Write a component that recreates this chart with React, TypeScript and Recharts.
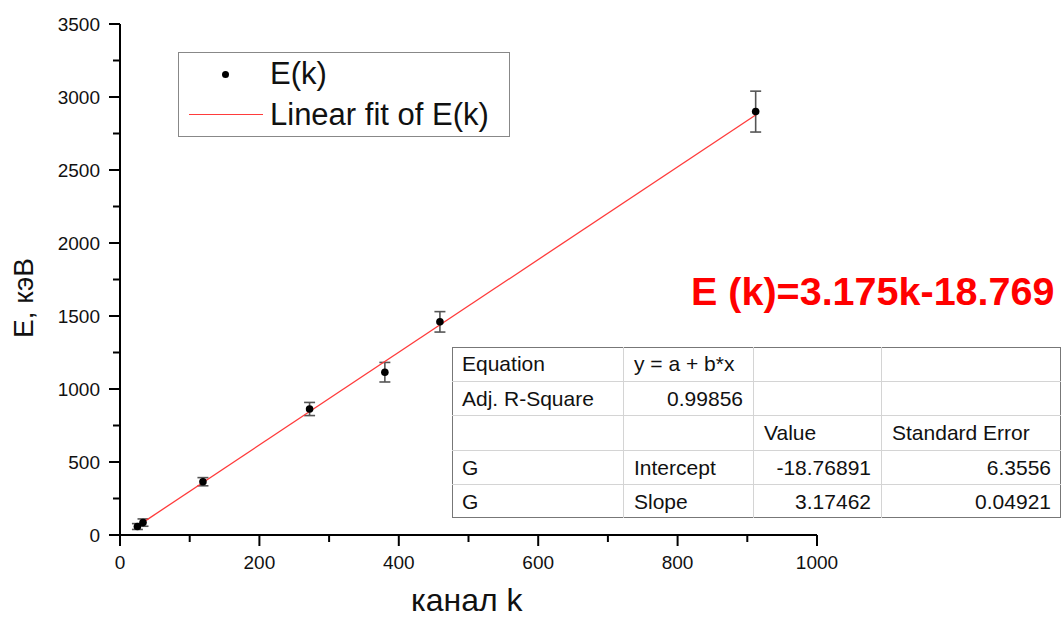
import React from 'react';
import { ScatterChart, Scatter, XAxis, YAxis, ErrorBar } from 'recharts';

const channelK = [25, 33, 119, 272, 380, 459, 912];
const energyE = [58, 85, 365, 863, 1115, 1460, 2900];
const energyErr = [20, 25, 28, 45, 67, 70, 140];

const fitK = [25, 912];
const fitE = [61, 2877];

const xTicks = [0, 100, 200, 300, 400, 500, 600, 700, 800, 900, 1000];
const yTicks = [0, 250, 500, 750, 1000, 1250, 1500, 1750, 2000, 2250, 2500, 2750, 3000, 3250, 3500];

const tableRows: { text: string; align: 'left' | 'right' }[][] = [
  [{ text: 'Equation', align: 'left' }, { text: 'y = a + b*x', align: 'left' }, { text: '', align: 'left' }, { text: '', align: 'left' }],
  [{ text: 'Adj. R-Square', align: 'left' }, { text: '0.99856', align: 'right' }, { text: '', align: 'left' }, { text: '', align: 'left' }],
  [{ text: '', align: 'left' }, { text: '', align: 'left' }, { text: 'Value', align: 'left' }, { text: 'Standard Error', align: 'left' }],
  [{ text: 'G', align: 'left' }, { text: 'Intercept', align: 'left' }, { text: '-18.76891', align: 'right' }, { text: '6.3556', align: 'right' }],
  [{ text: 'G', align: 'left' }, { text: 'Slope', align: 'left' }, { text: '3.17462', align: 'right' }, { text: '0.04921', align: 'right' }],
];

const points = channelK.map((k, i) => ({ k, E: energyE[i], err: energyErr[i] }));
const fit = fitK.map((k, i) => ({ k, E: fitE[i] }));

const FONT = '"Liberation Sans", Arial, sans-serif';

const XTick = (props: any) => {
  const { x, y, payload } = props;
  const major = payload.value % 200 === 0;
  return (
    <g>
      <line x1={x} y1={y} x2={x} y2={y + (major ? 11 : 7)} stroke="#000" strokeWidth={2} />
      {major && (
        <text x={x} y={y + 34} textAnchor="middle" fontSize={19} fontFamily={FONT} fill="#111">
          {payload.value}
        </text>
      )}
    </g>
  );
};

const YTick = (props: any) => {
  const { x, y, payload } = props;
  const major = payload.value % 500 === 0;
  return (
    <g>
      <line x1={x} y1={y} x2={x - (major ? 11 : 7)} y2={y} stroke="#000" strokeWidth={2} />
      {major && (
        <text x={x - 20} y={y + 7} textAnchor="end" fontSize={19} fontFamily={FONT} fill="#111">
          {payload.value}
        </text>
      )}
    </g>
  );
};

const colX = [452, 623, 753, 881, 1061];
const rowTop = 347;
const rowH = 34.2;

export default function App() {
  return (
    <div style={{ position: 'absolute', left: 0, top: 0, width: 1062, height: 619, background: '#fff', fontFamily: FONT, overflow: 'hidden' }}>
      <ScatterChart width={1062} height={619} margin={{ top: 24, right: 245, bottom: 34, left: 60 }}>
        <XAxis
          type="number"
          dataKey="k"
          domain={[0, 1000]}
          ticks={xTicks}
          interval={0}
          height={50}
          tickSize={0}
          tickMargin={0}
          tickLine={false}
          axisLine={{ stroke: '#000', strokeWidth: 2 }}
          tick={<XTick />}
          allowDataOverflow
        />
        <YAxis
          type="number"
          dataKey="E"
          domain={[0, 3500]}
          ticks={yTicks}
          interval={0}
          width={60}
          tickSize={0}
          tickMargin={0}
          tickLine={false}
          axisLine={{ stroke: '#000', strokeWidth: 2 }}
          tick={<YTick />}
          allowDataOverflow
        />
        <Scatter
          data={fit}
          line={{ stroke: '#ff3b3b', strokeWidth: 1.3 }}
          shape={() => null}
          isAnimationActive={false}
        />
        <Scatter data={points} fill="#000" isAnimationActive={false} shape={(p: any) => <circle cx={p.cx} cy={p.cy} r={3.8} fill="#000" />}>
          <ErrorBar dataKey="err" direction="y" width={5.5} stroke="#555" strokeWidth={1.6} isAnimationActive={false} />
        </Scatter>
      </ScatterChart>

      {/* Legend */}
      <div style={{ position: 'absolute', left: 178, top: 52, width: 330, height: 83, border: '1.5px solid #888', background: '#fff' }}>
        <div style={{ position: 'absolute', left: 43, top: 18, width: 7, height: 7, borderRadius: '50%', background: '#000' }} />
        <div style={{ position: 'absolute', left: 91, top: 3, fontSize: 31, lineHeight: '36px', color: '#111' }}>E(k)</div>
        <div style={{ position: 'absolute', left: 10, top: 61, width: 74, height: 0, borderTop: '1.3px solid #ff3b3b' }} />
        <div style={{ position: 'absolute', left: 91, top: 44, fontSize: 31, lineHeight: '36px', color: '#111', whiteSpace: 'nowrap' }}>Linear fit of E(k)</div>
      </div>

      {/* Axis titles */}
      <div style={{ position: 'absolute', left: 411, top: 582, fontSize: 32, lineHeight: '36px', color: '#111', whiteSpace: 'nowrap' }}>канал k</div>
      <div style={{ position: 'absolute', left: 24, top: 298, transform: 'translate(-50%, -50%) rotate(-90deg)', fontSize: 28, lineHeight: '32px', color: '#111', whiteSpace: 'nowrap' }}>E, кэВ</div>

      {/* Fit equation */}
      <div style={{ position: 'absolute', left: 691, top: 267, fontSize: 39.5, fontWeight: 'bold', lineHeight: '48px', color: '#ff0000', whiteSpace: 'nowrap' }}>E (k)=3.175k-18.769</div>

      {/* Fit table */}
      <div style={{ position: 'absolute', left: colX[0], top: rowTop, width: colX[4] - colX[0], height: rowH * 5, background: '#fff', border: '1.5px solid #777', boxSizing: 'border-box' }} />
      {tableRows.map((row, r) =>
        row.map((cell, c) => (
          <div
            key={`${r}-${c}`}
            style={{
              position: 'absolute',
              left: colX[c],
              top: rowTop + r * rowH,
              width: colX[c + 1] - colX[c],
              height: rowH,
              boxSizing: 'border-box',
              borderLeft: c > 0 ? '1.5px solid #d4d4d4' : 'none',
              borderTop: r > 0 ? '1.5px solid #d4d4d4' : 'none',
              padding: '0 10px',
              fontSize: 21,
              lineHeight: `${rowH}px`,
              textAlign: cell.align,
              color: '#111',
              whiteSpace: 'nowrap',
            }}
          >
            {cell.text}
          </div>
        ))
      )}
    </div>
  );
}
